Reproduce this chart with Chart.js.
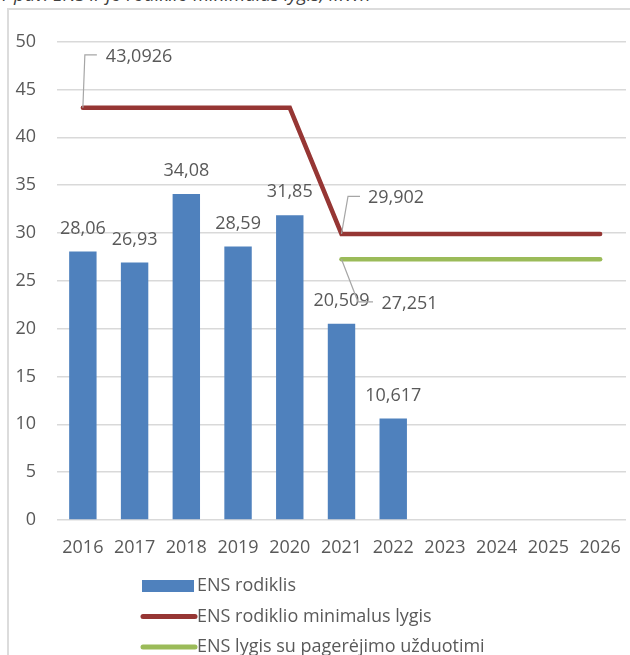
<!DOCTYPE html>
<html>
<head>
<meta charset="utf-8">
<script src="https://cdn.jsdelivr.net/npm/chart.js@4/dist/chart.umd.min.js"></script>
<style>
  html, body { margin: 0; padding: 0; background: #fff; overflow: hidden; }
  #wrap { position: relative; width: 630px; height: 655px; overflow: hidden; }
  #title { position: absolute; left: -1px; top: -19px; font: italic 18.5px "Open Sans", sans-serif; color: #404040; white-space: nowrap; }
  #frame { position: absolute; left: 7px; top: 8px; width: 700px; height: 700px; border-top: 2px solid #dcdcdc; border-left: 2px solid #dcdcdc; }
  canvas { position: absolute; left: 0; top: 0; }
</style>
</head>
<body>
<div id="wrap">
  <div id="title">1 pav. ENS ir jo rodiklio minimalus lygis, MWh</div>
  <div id="frame"></div>
  <canvas id="c" width="630" height="655"></canvas>
</div>
<script>
// ---- data ----
const years = ['2016', '2017', '2018', '2019', '2020', '2021', '2022', '2023', '2024', '2025', '2026'];
const ensValues = [28.06, 26.93, 34.08, 28.59, 31.85, 20.509, 10.617, null, null, null, null];
const minLevelValues = [43.0926, 43.0926, 43.0926, 43.0926, 43.0926, 29.902, 29.902, 29.902, 29.902, 29.902, 29.902];
const targetValues = [null, null, null, null, null, 27.251, 27.251, 27.251, 27.251, 27.251, 27.251];
const seriesNames = ['ENS rodiklis', 'ENS rodiklio minimalus lygis', 'ENS lygis su pagerėjimo užduotimi'];
const minLevelLabelIndex = [0, 5];
const targetLabelIndex = [5];
const yMin = 0, yMax = 50, yStep = 5;

const FONT = '"Open Sans", sans-serif';
const TXT = '#595959';
const fmt = v => String(v).replace('.', ',');

const labelPlugin = {
  id: 'valueLabels',
  afterDatasetsDraw(chart) {
    const ctx = chart.ctx;
    ctx.save();
    ctx.font = '18px ' + FONT;
    ctx.fillStyle = TXT;
    const barMeta = chart.getDatasetMeta(0);
    ctx.textAlign = 'center';
    ctx.textBaseline = 'middle';
    barMeta.data.forEach((el, i) => {
      const v = ensValues[i];
      if (v === null) return;
      ctx.fillText(fmt(v), el.x, el.y - 23);
    });
    const leader = (x, y, ex, ey, hx, tx, ty, text) => {
      ctx.beginPath();
      ctx.strokeStyle = '#a6a6a6';
      ctx.lineWidth = 1.2;
      ctx.moveTo(x, y);
      ctx.lineTo(ex, ey);
      ctx.lineTo(hx, ey);
      ctx.stroke();
      ctx.textAlign = 'left';
      ctx.fillText(text, tx, ty);
    };
    const redMeta = chart.getDatasetMeta(1);
    minLevelLabelIndex.forEach((i, k) => {
      const el = redMeta.data[i];
      if (k === 0) {
        leader(el.x, el.y, el.x + 2, el.y - 53, el.x + 14, el.x + 23, el.y - 51, fmt(minLevelValues[i]));
      } else {
        leader(el.x, el.y, el.x + 6.5, el.y - 37.5, el.x + 18.5, el.x + 26.5, el.y - 36, fmt(minLevelValues[i]));
      }
    });
    const greenMeta = chart.getDatasetMeta(2);
    targetLabelIndex.forEach(i => {
      const el = greenMeta.data[i];
      leader(el.x, el.y, el.x + 16.5, el.y + 42.5, el.x + 31.5, el.x + 40, el.y + 45, fmt(targetValues[i]));
    });
    ctx.restore();
  }
};

const legendPlugin = {
  id: 'listLegend',
  afterDraw(chart) {
    const ctx = chart.ctx;
    const ds = chart.data.datasets;
    const x0 = 142, x1 = 194, rows = [586, 616.5, 647];
    ctx.save();
    ds.forEach((d, i) => {
      const y = rows[i];
      if (d.type === 'bar') {
        ctx.fillStyle = d.backgroundColor;
        ctx.fillRect(x0, y - 6, x1 - x0, 12);
      } else {
        ctx.beginPath();
        ctx.strokeStyle = d.borderColor;
        ctx.lineWidth = 5;
        ctx.lineCap = 'round';
        ctx.moveTo(x0 + 1, y);
        ctx.lineTo(x1 + 1, y);
        ctx.stroke();
      }
      ctx.fillStyle = TXT;
      ctx.font = '18px ' + FONT;
      ctx.textAlign = 'left';
      ctx.textBaseline = 'middle';
      ctx.fillText(d.label, 197, y);
    });
    ctx.restore();
  }
};

new Chart(document.getElementById('c'), {
  data: {
    labels: years,
    datasets: [
      { type: 'bar', label: seriesNames[0], data: ensValues, backgroundColor: '#4f81bd',
        barPercentage: 0.53, categoryPercentage: 1, order: 3 },
      { type: 'line', label: seriesNames[1], data: minLevelValues, borderColor: '#963634',
        borderWidth: 4.5, pointRadius: 0, borderCapStyle: 'round', tension: 0, order: 1 },
      { type: 'line', label: seriesNames[2], data: targetValues, borderColor: '#9bbb59',
        borderWidth: 4.5, pointRadius: 0, borderCapStyle: 'round', tension: 0, order: 2 }
    ]
  },
  options: {
    responsive: false,
    animation: false,
    events: [],
    layout: { padding: { left: 0, right: 4, top: 41.7, bottom: 0 } },
    plugins: { legend: { display: false }, tooltip: { enabled: false }, title: { display: false } },
    scales: {
      x: {
        grid: { display: false, drawTicks: false },
        border: { display: false },
        ticks: { color: TXT, font: { family: FONT, size: 18 }, padding: 17, maxRotation: 0, autoSkip: false },
        afterFit(s) { s.height = 135; s.paddingLeft = 0; s.paddingRight = 0; }
      },
      y: {
        min: yMin, max: yMax,
        grid: { color: '#d9d9d9', lineWidth: 1.5, drawTicks: false },
        border: { display: false },
        ticks: { stepSize: yStep, color: TXT, font: { family: FONT, size: 18 }, padding: 21 },
        afterFit(s) { s.width = 57; s.paddingTop = 0; s.paddingBottom = 0; }
      }
    }
  },
  plugins: [labelPlugin, legendPlugin]
});
</script>
</body>
</html>
